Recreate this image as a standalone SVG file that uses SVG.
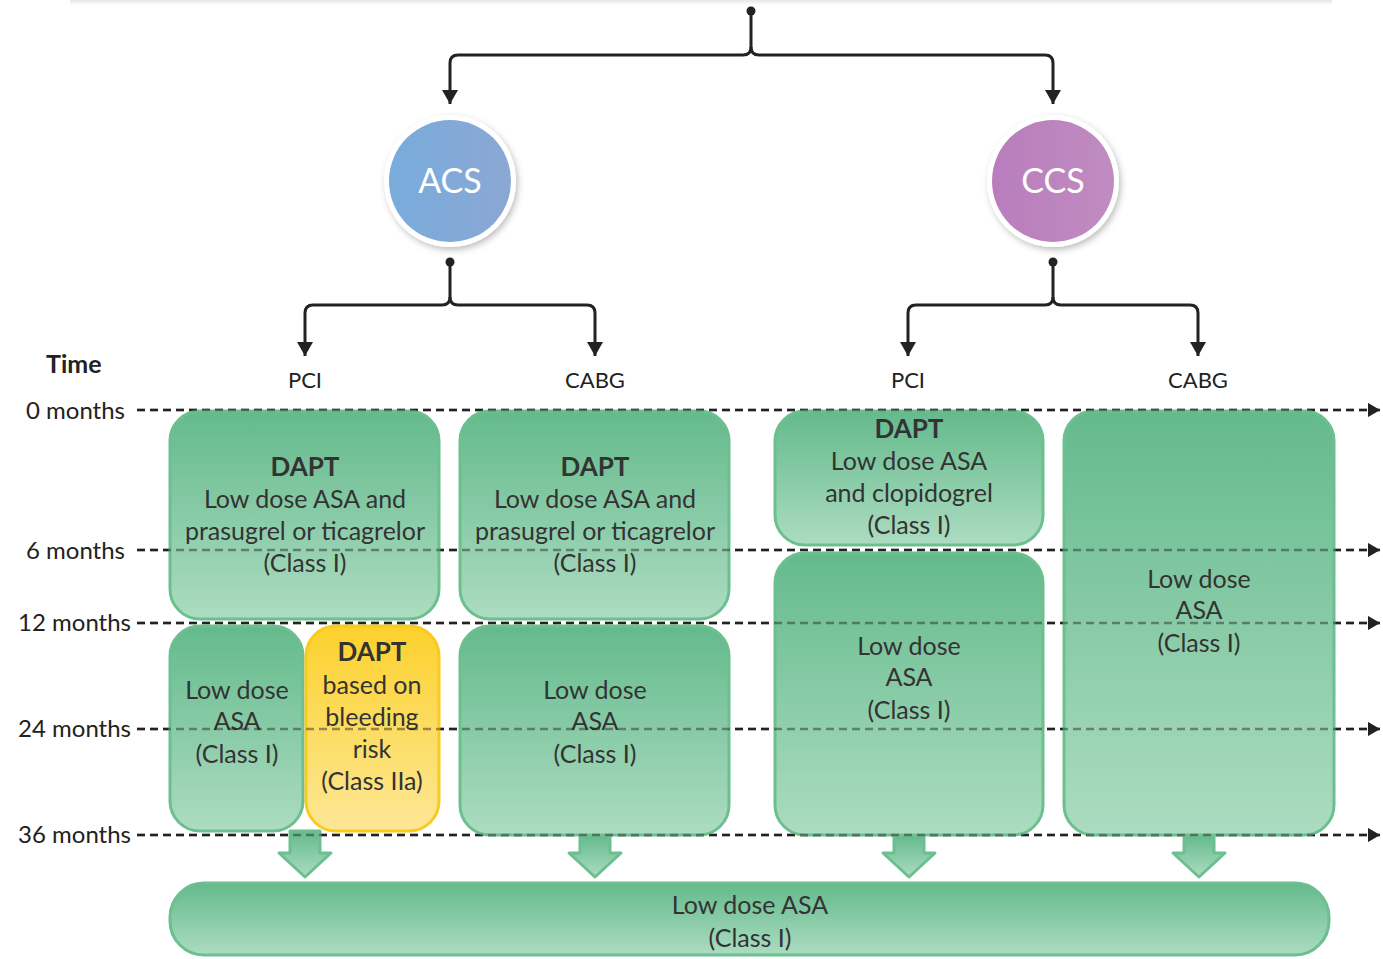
<svg xmlns="http://www.w3.org/2000/svg" width="1383" height="959" viewBox="0 0 1383 959">
<defs>
<linearGradient id="gGreen" x1="0" y1="0" x2="0" y2="1"><stop offset="0" stop-color="#64ba8c"/><stop offset="1" stop-color="#acdcc1"/></linearGradient>
<linearGradient id="gYellow" x1="0" y1="0" x2="0" y2="1"><stop offset="0" stop-color="#fcd12c"/><stop offset="1" stop-color="#fde796"/></linearGradient>
<linearGradient id="gBlue" x1="0" y1="0" x2="1" y2="0"><stop offset="0" stop-color="#78acdc"/><stop offset="1" stop-color="#8ba7d3"/></linearGradient>
<linearGradient id="gPurple" x1="0" y1="0" x2="1" y2="0"><stop offset="0" stop-color="#b97dbd"/><stop offset="1" stop-color="#c08cc0"/></linearGradient>
<linearGradient id="gTop" x1="0" y1="0" x2="0" y2="1"><stop offset="0" stop-color="#e6e6e6"/><stop offset="1" stop-color="#ffffff"/></linearGradient>
<filter id="shadow" x="-30%" y="-30%" width="160%" height="160%"><feDropShadow dx="2" dy="3" stdDeviation="3" flood-color="#000" flood-opacity="0.25"/></filter>
<marker id="ah" markerWidth="16" markerHeight="14" refX="8" refY="14" orient="0" markerUnits="userSpaceOnUse"><path d="M0,0 L16,0 L8,14 Z" fill="#222"/></marker>
<marker id="ar" markerWidth="12" markerHeight="14" refX="12" refY="7" orient="0" markerUnits="userSpaceOnUse"><path d="M0,0 L12,7 L0,14 Z" fill="#222"/></marker>
</defs>
<style>
.box{fill:url(#gGreen);stroke:#6cbf8f;stroke-width:3}
.ybox{fill:url(#gYellow);stroke:#f8cb1e;stroke-width:3}
.barrow{fill:url(#gGreen);stroke:#6cbf8f;stroke-width:3;stroke-linejoin:round}
.t{font-family:Lato,"Open Sans","DejaVu Sans",sans-serif;font-size:25px;fill:#333;text-anchor:middle}
.b{font-weight:bold;font-size:26px}
.lab{font-family:Lato,"Open Sans","DejaVu Sans",sans-serif;font-size:22px;fill:#222}
.tm{font-size:24px;text-anchor:end}
.conn{fill:none;stroke:#222;stroke-width:3}
.dash{fill:none;stroke:#222;stroke-width:2.6;stroke-dasharray:8 5}
.circ{font-family:Lato,"Open Sans","DejaVu Sans",sans-serif;font-size:34px;fill:#fff;text-anchor:middle}
</style>
<rect x="70" y="0" width="1262" height="5" fill="url(#gTop)"/>

<g id="connectors">
<circle cx="751" cy="11" r="4.5" fill="#222"/>
<path class="conn" d="M751,11 V47 Q751,55 743,55 H458 Q450,55 450,63 V104" marker-end="url(#ah)"/>
<path class="conn" d="M751,47 Q751,55 759,55 H1045 Q1053,55 1053,63 V104" marker-end="url(#ah)"/>
<circle cx="450" cy="262" r="4.5" fill="#222"/>
<path class="conn" d="M450,262 V297 Q450,305 442,305 H313 Q305,305 305,313 V356" marker-end="url(#ah)"/>
<path class="conn" d="M450,297 Q450,305 458,305 H587 Q595,305 595,313 V356" marker-end="url(#ah)"/>
<circle cx="1053" cy="262" r="4.5" fill="#222"/>
<path class="conn" d="M1053,262 V297 Q1053,305 1045,305 H916 Q908,305 908,313 V356" marker-end="url(#ah)"/>
<path class="conn" d="M1053,297 Q1053,305 1061,305 H1190 Q1198,305 1198,313 V356" marker-end="url(#ah)"/>
<g id="timelines">
<path id="l0" class="dash" d="M137,410 H1380" marker-end="url(#ar)"/>
<path id="l6" class="dash" d="M137,550 H1380" marker-end="url(#ar)"/>
<path id="l12" class="dash" d="M137,623 H1380" marker-end="url(#ar)"/>
<path id="l24" class="dash" d="M137,729 H1380" marker-end="url(#ar)"/>
<path id="l36" class="dash" d="M137,835 H1380" marker-end="url(#ar)"/>
</g>
</g>

<g id="time-labels">
<text class="lab" x="46" y="373" style="font-weight:bold;font-size:25px">Time</text>
<text class="lab tm" x="125" y="419">0 months</text>
<text class="lab tm" x="125" y="559">6 months</text>
<text class="lab tm" x="131" y="631">12 months</text>
<text class="lab tm" x="131" y="737">24 months</text>
<text class="lab tm" x="131" y="843">36 months</text>
</g>

<g id="acs">
<circle cx="450" cy="181" r="66" fill="#fff" filter="url(#shadow)"/>
<circle cx="450" cy="181" r="61" fill="url(#gBlue)"/>
<text class="circ" x="450" y="193">ACS</text>
</g>
<g id="ccs">
<circle cx="1053" cy="181" r="66" fill="#fff" filter="url(#shadow)"/>
<circle cx="1053" cy="181" r="61" fill="url(#gPurple)"/>
<text class="circ" x="1053" y="193">CCS</text>
</g>

<g id="branch-labels">
<text class="lab" x="305" y="388" text-anchor="middle">PCI</text>
<text class="lab" x="595" y="388" text-anchor="middle">CABG</text>
<text class="lab" x="908" y="388" text-anchor="middle">PCI</text>
<text class="lab" x="1198" y="388" text-anchor="middle">CABG</text>
</g>

<g id="arrow1"><path class="barrow" d="M290,831 H320 V853 H331 L305,877 L279,853 H290 Z"/></g>
<g id="arrow2"><path class="barrow" d="M580,835 H610 V853 H621 L595,877 L569,853 H580 Z"/></g>
<g id="arrow3"><path class="barrow" d="M894,835 H924 V853 H935 L909,877 L883,853 H894 Z"/></g>
<g id="arrow4"><path class="barrow" d="M1184,835 H1214 V853 H1225 L1199,877 L1173,853 H1184 Z"/></g>

<g id="acs-pci-dapt">
<rect class="box" x="170" y="411" width="269" height="208" rx="30"/>
<text class="t b" x="305" y="476">DAPT</text>
<text class="t" x="305" y="508">Low dose ASA and</text>
<text class="t" x="305" y="540">prasugrel or ticagrelor</text>
<text class="t" x="305" y="572">(Class I)</text>
</g>
<g id="acs-cabg-dapt">
<rect class="box" x="460" y="411" width="269" height="208" rx="30"/>
<text class="t b" x="595" y="476">DAPT</text>
<text class="t" x="595" y="508">Low dose ASA and</text>
<text class="t" x="595" y="540">prasugrel or ticagrelor</text>
<text class="t" x="595" y="572">(Class I)</text>
</g>
<g id="acs-pci-asa">
<rect class="box" x="170" y="626" width="133" height="205" rx="30"/>
<text class="t" x="237" y="699">Low dose</text>
<text class="t" x="237" y="730">ASA</text>
<text class="t" x="237" y="763">(Class I)</text>
</g>
<g id="acs-pci-dapt-bleeding">
<rect class="ybox" x="306" y="626" width="133" height="205" rx="30"/>
<text class="t b" x="372" y="661">DAPT</text>
<text class="t" x="372" y="694">based on</text>
<text class="t" x="372" y="726">bleeding</text>
<text class="t" x="372" y="758">risk</text>
<text class="t" x="372" y="790">(Class IIa)</text>
</g>
<g id="acs-cabg-asa">
<rect class="box" x="460" y="626" width="269" height="209" rx="30"/>
<text class="t" x="595" y="699">Low dose</text>
<text class="t" x="595" y="730">ASA</text>
<text class="t" x="595" y="763">(Class I)</text>
</g>
<g id="ccs-pci-dapt">
<rect class="box" x="775" y="411" width="268" height="134" rx="30"/>
<text class="t b" x="909" y="438">DAPT</text>
<text class="t" x="909" y="470">Low dose ASA</text>
<text class="t" x="909" y="502">and clopidogrel</text>
<text class="t" x="909" y="534">(Class I)</text>
</g>
<g id="ccs-pci-asa">
<rect class="box" x="775" y="553" width="268" height="282" rx="30"/>
<text class="t" x="909" y="655">Low dose</text>
<text class="t" x="909" y="686">ASA</text>
<text class="t" x="909" y="719">(Class I)</text>
</g>
<g id="ccs-cabg-asa">
<rect class="box" x="1064" y="411" width="270" height="424" rx="30"/>
<text class="t" x="1199" y="588">Low dose</text>
<text class="t" x="1199" y="619">ASA</text>
<text class="t" x="1199" y="652">(Class I)</text>
</g>
<g id="final-asa">
<rect class="box" x="170" y="883" width="1159" height="72" rx="34"/>
<text class="t" x="750" y="914">Low dose ASA</text>
<text class="t" x="750" y="947">(Class I)</text>
</g>

<g id="timelines-overlay" opacity="0.45">
<use href="#l0"/><use href="#l6"/><use href="#l12"/><use href="#l24"/><use href="#l36"/>
</g>
</svg>
